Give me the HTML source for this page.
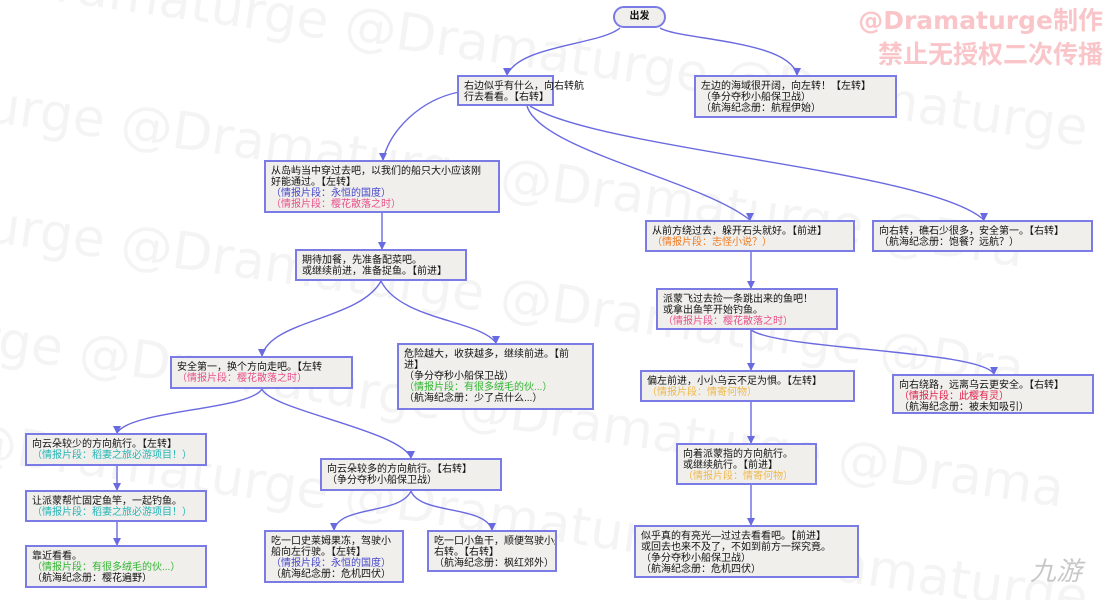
<!DOCTYPE html>
<html style="margin:0;width:1115px;height:600px;overflow:hidden"><head><meta charset="utf-8"><style>
body{margin:0;width:1115px;height:600px;background:#fff;position:relative;overflow:hidden;font-family:"Liberation Sans","Noto Sans CJK SC",sans-serif;}
.b{position:absolute;box-sizing:border-box;border:2px solid #7b7be6;background:#f0efec;font-size:10px;line-height:11px;color:#111;padding:4px 5px;white-space:nowrap;}
.wm{position:absolute;font-size:52px;color:rgba(0,0,0,0.045);transform:rotate(8deg);white-space:nowrap;font-family:"DejaVu Sans",sans-serif;}
.bl{color:#4646c8}.pk{color:#e8508a}.tl{color:#25b5b5}.gr{color:#30b530}.or{color:#f07a20}.ye{color:#f0b848}.rd{color:#e0204a}
svg{position:absolute;left:0;top:0}
</style></head><body>
<div class="wm" style="left:-40px;top:20px">@Dramaturge @Dramaturge @Dramaturge</div>
<div class="wm" style="left:-120px;top:140px">maturge @Dramaturge @Dramaturge @Dra</div>
<div class="wm" style="left:-120px;top:260px">maturge @Dramaturge @Dramaturge @Dra</div>
<div class="wm" style="left:-80px;top:380px">turge @Dramaturge @Dramaturge @Drama</div>
<div class="wm" style="left:-40px;top:490px">@Dramaturge @Dramaturge @Dramaturge</div>
<div style="position:absolute;right:12px;top:4px;font-size:25px;line-height:34px;color:rgba(240,110,120,0.4);font-weight:bold;text-align:right;font-family:'DejaVu Sans','Noto Sans CJK SC',sans-serif">@Dramaturge制作<br>禁止无授权二次传播</div>
<svg width="1115" height="600"><defs>
<marker id="m" markerWidth="10" markerHeight="10" refX="5" refY="9" markerUnits="userSpaceOnUse"><path d="M1,2 L9,2 L5,10z" fill="#6a6ae0"/></marker></defs>
<g fill="none" stroke="#6a6ae0" stroke-width="1.4" marker-end="url(#m)">
<path d="M620,28 C600,45 520,45 507,75"/>
<path d="M660,28 C680,40 790,40 797,75"/>
<path d="M459,92 C420,100 390,130 383,160"/>
<path d="M527,106 C540,150 700,180 750,220"/>
<path d="M530,106 C600,150 930,170 984,220"/>
<path d="M382,213 L382,249"/>
<path d="M381,281 C360,320 270,320 262,356"/>
<path d="M381,281 C400,320 480,320 496,343"/>
<path d="M751,252 L751,288"/>
<path d="M751,330 L751,370"/>
<path d="M751,330 C780,350 980,350 994,374"/>
<path d="M262,389 C250,410 130,410 117,433"/>
<path d="M262,389 C270,410 400,430 411,458"/>
<path d="M117,466 L117,490"/>
<path d="M117,522 L117,545"/>
<path d="M411,491 C400,515 340,505 334,530"/>
<path d="M411,491 C420,515 485,505 492,530"/>
<path d="M751,402 L751,443"/>
<path d="M751,485 L751,525"/>
</g></svg>
<div class="b" style="left:613px;top:6px;width:53px;height:22px;border-radius:11px;text-align:center;font-weight:bold;padding:3px 0">出发</div>
<div class="b" style="left:457px;top:75px;width:97px;height:31px">右边似乎有什么，向右转航<br>行去看看。【右转】</div>
<div class="b" style="left:694px;top:75px;width:203px;height:43px">左边的海域很开阔，向左转！【左转】<br>（争分夺秒小船保卫战）<br>（航海纪念册：航程伊始）</div>
<div class="b" style="left:264px;top:160px;width:236px;height:53px">从岛屿当中穿过去吧，以我们的船只大小应该刚<br>好能通过。【左转】<br><span class="bl">（情报片段：永恒的国度）</span><br><span class="pk">（情报片段：樱花散落之时）</span></div>
<div class="b" style="left:645px;top:220px;width:210px;height:32px">从前方绕过去，躲开石头就好。【前进】<br><span class="or">（情报片段：志怪小说？）</span></div>
<div class="b" style="left:872px;top:220px;width:221px;height:32px">向右转，礁石少很多，安全第一。【右转】<br>（航海纪念册：饱餐？远航？）</div>
<div class="b" style="left:295px;top:249px;width:172px;height:32px">期待加餐，先准备配菜吧。<br>或继续前进，准备捉鱼。【前进】</div>
<div class="b" style="left:656px;top:288px;width:182px;height:42px">派蒙飞过去捡一条跳出来的鱼吧！<br>或拿出鱼竿开始钓鱼。<br><span class="pk">（情报片段：樱花散落之时）</span></div>
<div class="b" style="left:170px;top:356px;width:183px;height:33px">安全第一，换个方向走吧。【左转<br><span class="pk">（情报片段：樱花散落之时）</span></div>
<div class="b" style="left:397px;top:343px;width:197px;height:67px;overflow:hidden">危险越大，收获越多，继续前进。【前<br>进】<br>（争分夺秒小船保卫战）<br><span class="gr">（情报片段：有很多绒毛的伙...）</span><br>（航海纪念册：少了点什么...）</div>
<div class="b" style="left:640px;top:370px;width:215px;height:32px">偏左前进，小小乌云不足为惧。【左转】<br><span class="ye">（情报片段：情寄何物）</span></div>
<div class="b" style="left:892px;top:374px;width:202px;height:40px">向右绕路，远离乌云更安全。【右转】<br><span class="rd">（情报片段：此樱有灵）</span><br>（航海纪念册：被未知吸引）</div>
<div class="b" style="left:25px;top:433px;width:182px;height:33px">向云朵较少的方向航行。【左转】<br><span class="tl">（情报片段：稻妻之旅必游项目！）</span></div>
<div class="b" style="left:676px;top:443px;width:141px;height:42px">向着派蒙指的方向航行。<br>或继续航行。【前进】<br><span class="ye">（情报片段：情寄何物）</span></div>
<div class="b" style="left:320px;top:458px;width:182px;height:33px">向云朵较多的方向航行。【右转】<br>（争分夺秒小船保卫战）</div>
<div class="b" style="left:25px;top:490px;width:182px;height:32px">让派蒙帮忙固定鱼竿，一起钓鱼。<br><span class="tl">（情报片段：稻妻之旅必游项目！）</span></div>
<div class="b" style="left:634px;top:525px;width:225px;height:53px">似乎真的有亮光—过过去看看吧。【前进】<br>或回去也来不及了，不如到前方一探究竟。<br>（争分夺秒小船保卫战）<br>（航海纪念册：危机四伏）</div>
<div class="b" style="left:25px;top:545px;width:182px;height:43px">靠近看看。<br><span class="gr">（情报片段：有很多绒毛的伙...）</span><br>（航海纪念册：樱花遍野）</div>
<div class="b" style="left:264px;top:530px;width:140px;height:53px">吃一口史莱姆果冻，驾驶小<br>船向左行驶。【左转】<br><span class="bl">（情报片段：永恒的国度）</span><br>（航海纪念册：危机四伏）</div>
<div class="b" style="left:427px;top:530px;width:130px;height:42px;overflow:hidden">吃一口小鱼干，顺便驾驶小船向<br>右转。【右转】<br>（航海纪念册：枫红郊外）</div>
<div style="position:absolute;left:1030px;top:555px;font-size:26px;line-height:30px;color:rgba(0,0,0,0.22);font-style:italic;font-family:'Noto Sans CJK SC',sans-serif">九游</div>
</body></html>
